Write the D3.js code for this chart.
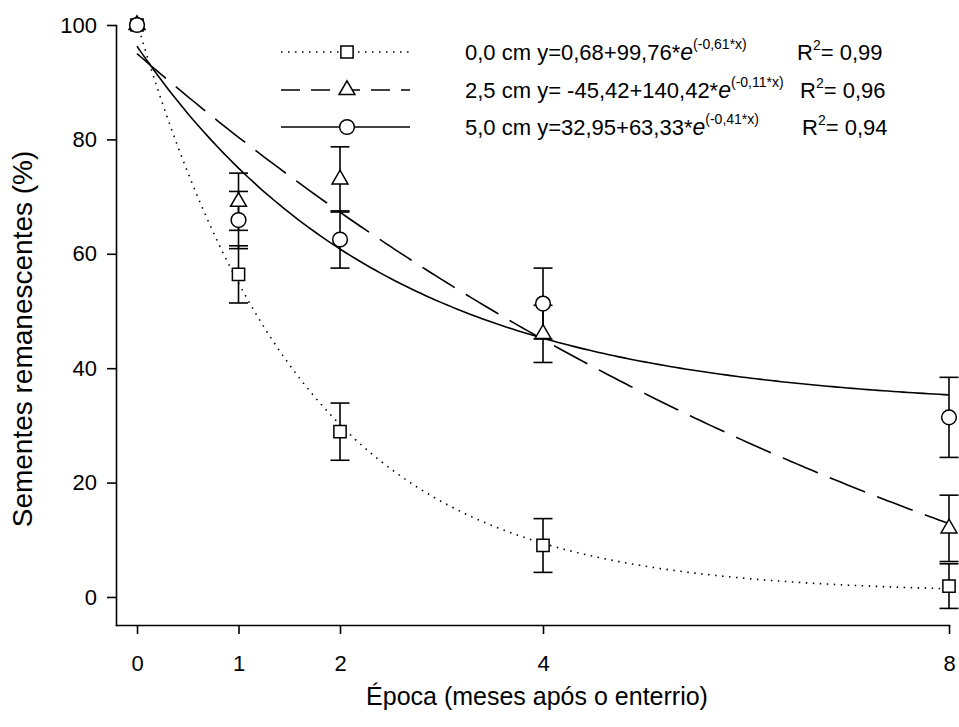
<!DOCTYPE html>
<meta charset="utf-8">
<head>
  <title>Sementes remanescentes</title>
</head>

<style>
body { margin: 0; background: #fff; }
text {
  font-family: "Liberation Sans", Arial, Helvetica, sans-serif;
  fill: #000;
}
.axis path, .axis line { stroke: #000; stroke-width: 1.6; }
.axis text { font-size: 22px; }
.curve { fill: none; stroke: #000; stroke-width: 1.6; }
.bar { stroke: #000; stroke-width: 1.6; }
.mark { fill: #fff; stroke: #000; stroke-width: 1.5; }
</style>

<body>
  <svg width="959" height="727"></svg>

  <script src="https://cdnjs.cloudflare.com/ajax/libs/d3/7.8.5/d3.min.js"></script>
  <script>
// epocas (meses apos o enterrio)
var epocas = [0, 1, 2, 4, 8];
var profundidades = ["0,0 cm", "2,5 cm", "5,0 cm"];

// medias e erros
var media00 = [100, 56.4, 28.9, 9.0, 1.9];
var erro00  = [0, 5.0, 5.0, 4.7, 3.9];
var media25 = [100, 69.1, 73.0, 46.0, 12.0];
var erro25  = [0, 5.0, 5.7, 5.0, 5.8];
var media50 = [100, 65.9, 62.5, 51.3, 31.4];
var erro50  = [0, 5.0, 5.0, 6.2, 7.0];

// ajuste y = a + b*e^(c*x)
var coefA = [0.68, -45.42, 32.95];
var coefB = [99.76, 140.42, 63.33];
var coefC = [-0.61, -0.11, -0.41];
var eqA = ["0,68", " -45,42", "32,95"];
var eqB = ["99,76", "140,42", "63,33"];
var eqC = ["-0,61", "-0,11", "-0,41"];
var r2 = ["0,99", "0,96", "0,94"];

var yTicks = [0, 20, 40, 60, 80, 100];

var medias = [media00, media25, media50];
var erros = [erro00, erro25, erro50];
var dashes = ["1.5,5.5", "38,13", null];
var legDashes = ["1.5,5.5", "19,11", null];
var simbolos = [d3.symbolSquare, d3.symbolTriangle, d3.symbolCircle];
var tamanhos = [150, 110, 170];

var svg = d3.select('svg');

var x = d3.scaleLinear().domain([-0.207, 8]).range([116, 949]);
var y = d3.scaleLinear().domain([-4.9, 100]).range([625, 25]);

svg.append('g')
  .attr('class', 'axis')
  .attr('transform', 'translate(0,625)')
  .call(d3.axisBottom(x).tickValues(epocas).tickSize(9).tickSizeOuter(0).tickPadding(21))
  .call(function(g) { g.selectAll('text').attr('dy', '0.71em'); });

svg.append('g')
  .attr('class', 'axis')
  .attr('transform', 'translate(116,0)')
  .call(d3.axisLeft(y).tickValues(yTicks).tickSize(9).tickSizeOuter(0).tickPadding(10));

svg.selectAll('.axis .domain').attr('stroke-linecap', 'square');

// titulos
svg.append('text')
  .attr('x', 537)
  .attr('y', 705)
  .attr('text-anchor', 'middle')
  .style('font-size', '25px')
  .text('Época (meses após o enterrio)');

svg.append('text')
  .attr('transform', 'translate(32,339) rotate(-90)')
  .attr('text-anchor', 'middle')
  .style('font-size', '28px')
  .text('Sementes remanescentes (%)');

// curvas ajustadas
var xs = d3.range(0, 8.001, 0.05);
var line = d3.line()
  .x(function(d) { return x(d[0]); })
  .y(function(d) { return y(d[1]); });

profundidades.forEach(function(p, i) {
  var pts = xs.map(function(v) { return [v, coefA[i] + coefB[i] * Math.exp(coefC[i] * v)]; });
  svg.append('path')
    .attr('class', 'curve')
    .attr('d', line(pts))
    .attr('stroke-dasharray', dashes[i]);
});

// barras de erro
profundidades.forEach(function(p, i) {
  var g = svg.append('g');
  epocas.forEach(function(e, j) {
    if (!erros[i][j]) return;
    var top = y(medias[i][j] + erros[i][j]);
    var bot = y(medias[i][j] - erros[i][j]);
    var cx = x(e);
    g.append('line').attr('class', 'bar').attr('x1', cx).attr('x2', cx).attr('y1', top).attr('y2', bot);
    g.append('line').attr('class', 'bar').attr('x1', cx - 9.5).attr('x2', cx + 9.5).attr('y1', top).attr('y2', top);
    g.append('line').attr('class', 'bar').attr('x1', cx - 9.5).attr('x2', cx + 9.5).attr('y1', bot).attr('y2', bot);
  });
});

// simbolos
profundidades.forEach(function(p, i) {
  svg.append('g').selectAll('path')
    .data(epocas)
    .enter()
    .append('path')
    .attr('class', 'mark')
    .attr('d', d3.symbol().type(simbolos[i]).size(tamanhos[i]))
    .attr('transform', function(e, j) { return 'translate(' + x(e) + ',' + y(medias[i][j]) + ')'; });
});

// legenda
var legY = [52, 90, 127];
var r2X = [797, 800, 802];
profundidades.forEach(function(p, i) {
  var g = svg.append('g').attr('transform', 'translate(0,' + legY[i] + ')');
  g.append('line')
    .attr('class', 'curve')
    .attr('x1', 281).attr('x2', 410)
    .attr('stroke-dasharray', legDashes[i]);
  g.append('path')
    .attr('class', 'mark')
    .attr('d', d3.symbol().type(simbolos[i]).size(tamanhos[i]))
    .attr('transform', 'translate(347,0)');
  var t = g.append('text').attr('x', 465).attr('y', 8).style('font-size', '22px');
  t.append('tspan').text(p + ' y=' + eqA[i] + '+' + eqB[i] + '*');
  t.append('tspan').style('font-style', 'italic').style('font-size', '23px').text('e');
  t.append('tspan').attr('dy', -11).style('font-size', '14px').text('(' + eqC[i] + '*x)');
  var r = g.append('text').attr('x', r2X[i]).attr('y', 8).style('font-size', '22px');
  r.append('tspan').text('R');
  r.append('tspan').attr('dy', -10).style('font-size', '14px').text('2');
  r.append('tspan').attr('dy', 10).text('= ' + r2[i]);
});
  </script>
</body>
</html>
